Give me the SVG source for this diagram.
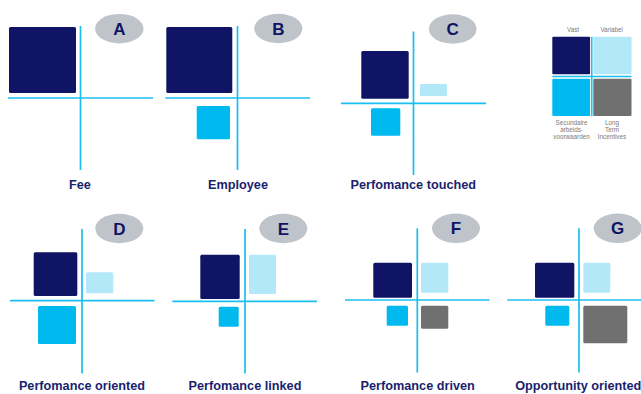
<svg xmlns="http://www.w3.org/2000/svg" width="641" height="394" viewBox="0 0 641 394">
  <style>
    .axis { stroke: #1BBEF0; stroke-width: 1.7; fill: none; }
    .ax2 { stroke: #1BBEF0; stroke-width: 1.5; fill: none; }
    .fix { fill: #0F1464; }
    .var { fill: #B3E8F9; }
    .sec { fill: #00B9EF; }
    .lti { fill: #707070; }
    .tag { fill: #BEC4C9; }
    .letter { font-family: "Liberation Sans", Arial, sans-serif; font-weight: bold; font-size: 17px; fill: #0F1464; text-anchor: middle; }
    .title { font-family: "Liberation Sans", Arial, sans-serif; font-weight: bold; font-size: 12.7px; fill: #1A1F6E; text-anchor: middle; }
    .key { font-family: "Liberation Sans", Arial, sans-serif; font-size: 6.3px; fill: #7A7A7A; text-anchor: middle; }
  </style>

  <!-- A: Fee -->
  <g id="panel-a">
    <rect class="fix" x="9" y="27" width="67" height="66" rx="1.5"/>
    <line class="axis" x1="80.5" y1="26" x2="80.5" y2="170"/>
    <line class="axis" x1="8" y1="98" x2="153" y2="98"/>
    <ellipse class="tag" cx="119.3" cy="28.7" rx="24.2" ry="14.7"/>
    <text class="letter" x="119.3" y="34.8">A</text>
    <text class="title" x="80" y="189">Fee</text>
  </g>

  <!-- B: Employee -->
  <g id="panel-b">
    <rect class="fix" x="166.3" y="27" width="66" height="66" rx="1.5"/>
    <rect class="sec" x="196.7" y="106" width="33.3" height="33.3" rx="1.5"/>
    <line class="axis" x1="237.5" y1="26" x2="237.5" y2="170"/>
    <line class="axis" x1="165.5" y1="98" x2="310" y2="98"/>
    <ellipse class="tag" cx="278.3" cy="28.5" rx="24" ry="14.7"/>
    <text class="letter" x="278.3" y="34.6">B</text>
    <text class="title" x="238" y="189">Employee</text>
  </g>

  <!-- C: Perfomance touched -->
  <g id="panel-c">
    <rect class="fix" x="361.3" y="51" width="47.4" height="47.7" rx="1.5"/>
    <rect class="var" x="420" y="84" width="27" height="12" rx="1"/>
    <rect class="sec" x="371" y="108.3" width="29.3" height="27.4" rx="1.5"/>
    <line class="axis" x1="413.5" y1="31.5" x2="413.5" y2="175"/>
    <line class="axis" x1="341" y1="103.3" x2="486" y2="103.3"/>
    <ellipse class="tag" cx="452.7" cy="29" rx="23.8" ry="14.7"/>
    <text class="letter" x="452.7" y="35.1">C</text>
    <text class="title" x="413.3" y="189">Perfomance touched</text>
  </g>

  <!-- Key -->
  <g id="legend">
    <rect class="fix" x="552.3" y="36.7" width="37.8" height="37.6" rx="1"/>
    <rect class="var" x="593.3" y="36.7" width="38.2" height="37.6" rx="1"/>
    <rect class="sec" x="552.3" y="78.7" width="37.8" height="37.3" rx="1"/>
    <rect class="lti" x="593.3" y="78.7" width="38.2" height="37.3" rx="1"/>
    <line class="ax2" x1="591.8" y1="36.7" x2="591.8" y2="116"/>
    <line class="ax2" x1="552.3" y1="76.6" x2="631.5" y2="76.6"/>
    <text class="key" x="573" y="32.2">Vast</text>
    <text class="key" x="611.7" y="32.2">Variabel</text>
    <text class="key" x="571.5" y="124.5">Secundaire</text>
    <text class="key" x="571.5" y="131.9">arbeids-</text>
    <text class="key" x="571.5" y="139.4">voorwaarden</text>
    <text class="key" x="612" y="124.5">Long</text>
    <text class="key" x="612" y="131.9">Term</text>
    <text class="key" x="612" y="139.4">Incentives</text>
  </g>

  <!-- D: Perfomance oriented -->
  <g id="panel-d">
    <rect class="fix" x="33.7" y="252.3" width="43.6" height="43.7" rx="1.5"/>
    <rect class="var" x="86" y="272.3" width="27.3" height="21" rx="1.5"/>
    <rect class="sec" x="38" y="306" width="38" height="38" rx="1.5"/>
    <line class="axis" x1="82" y1="229" x2="82" y2="373.5"/>
    <line class="axis" x1="10" y1="300.7" x2="154.5" y2="300.7"/>
    <ellipse class="tag" cx="119.3" cy="228.5" rx="24" ry="14.7"/>
    <text class="letter" x="119.3" y="234.6">D</text>
    <text class="title" x="82" y="390">Perfomance oriented</text>
  </g>

  <!-- E: Perfomance linked -->
  <g id="panel-e">
    <rect class="fix" x="200.3" y="254.7" width="39.4" height="44.3" rx="1.5"/>
    <rect class="var" x="249" y="254.7" width="27" height="39.3" rx="1.5"/>
    <rect class="sec" x="218.7" y="306.7" width="20" height="20" rx="1.5"/>
    <line class="axis" x1="245" y1="229" x2="245" y2="373.5"/>
    <line class="axis" x1="172.3" y1="301.3" x2="317" y2="301.3"/>
    <ellipse class="tag" cx="283.3" cy="228.5" rx="24" ry="14.7"/>
    <text class="letter" x="283.3" y="234.6">E</text>
    <text class="title" x="245" y="390">Perfomance linked</text>
  </g>

  <!-- F: Perfomance driven -->
  <g id="panel-f">
    <rect class="fix" x="373.3" y="262.7" width="38.7" height="35" rx="1.5"/>
    <rect class="var" x="421" y="262.7" width="27.3" height="30" rx="1.5"/>
    <rect class="sec" x="386.7" y="305.7" width="21.3" height="20" rx="1.5"/>
    <rect class="lti" x="421" y="305.7" width="27.3" height="23" rx="1.5"/>
    <line class="axis" x1="417.3" y1="228.3" x2="417.3" y2="372.5"/>
    <line class="axis" x1="345" y1="300" x2="489.5" y2="300"/>
    <ellipse class="tag" cx="456" cy="228.3" rx="24" ry="14.7"/>
    <text class="letter" x="456" y="234.4">F</text>
    <text class="title" x="417.7" y="390">Perfomance driven</text>
  </g>

  <!-- G: Opportunity oriented -->
  <g id="panel-g">
    <rect class="fix" x="535" y="262.7" width="39.3" height="35" rx="1.5"/>
    <rect class="var" x="583.3" y="262.7" width="27" height="30" rx="1.5"/>
    <rect class="sec" x="545.3" y="305.7" width="24" height="20" rx="1.5"/>
    <rect class="lti" x="583.3" y="305.7" width="44" height="37.6" rx="1.5"/>
    <line class="axis" x1="579" y1="228.3" x2="579" y2="372.5"/>
    <line class="axis" x1="507.3" y1="300" x2="641" y2="300"/>
    <ellipse class="tag" cx="617.7" cy="228.3" rx="24" ry="14.7"/>
    <text class="letter" x="617.7" y="234.4">G</text>
    <text class="title" x="578.3" y="390">Opportunity oriented</text>
  </g>
</svg>
